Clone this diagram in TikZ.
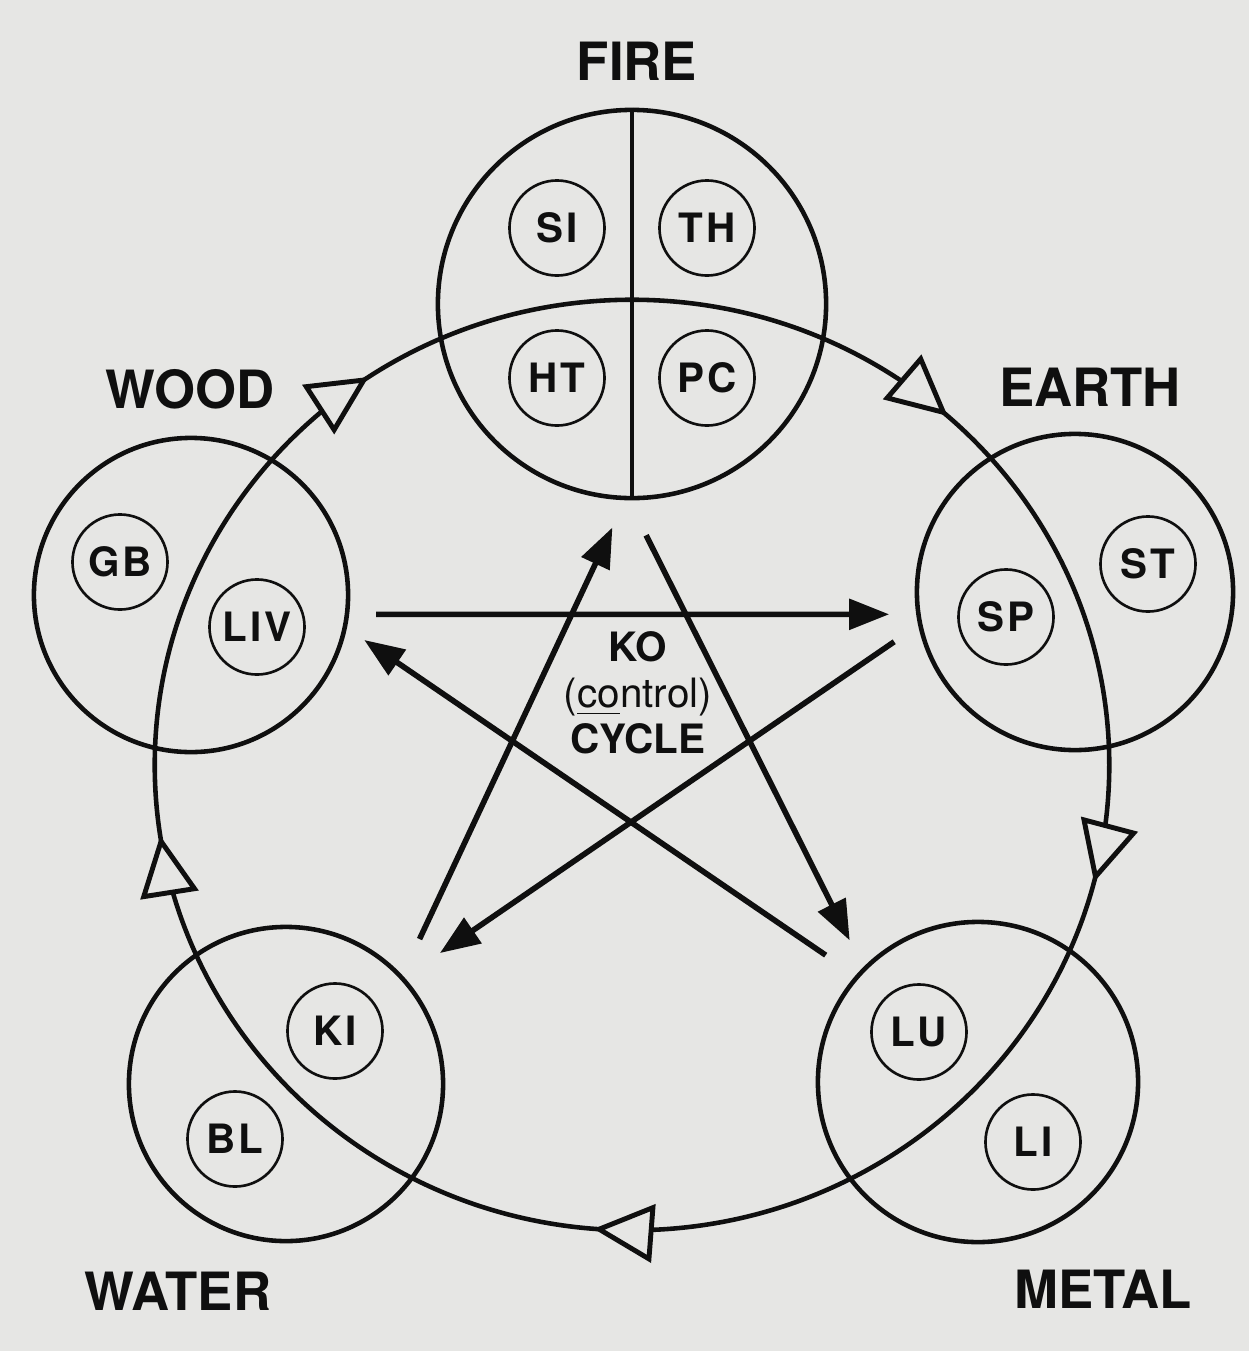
\documentclass[tikz,border=0pt]{standalone}
\usepackage{fontspec}
\setmainfont{TeX Gyre Heros}
\newfontfamily\organfont[LetterSpace=8]{TeX Gyre Heros}
\usetikzlibrary{arrows.meta, decorations.markings}
\definecolor{paper}{RGB}{230, 230, 228}
\definecolor{ink}{RGB}{15, 15, 15}

\begin{document}
\begin{tikzpicture}[x=0.01cm, y=-0.01cm,
    every node/.style={text=ink},
    element/.style={circle, draw=ink, line width=1.3pt, inner sep=0pt, minimum size=3.14cm},
    organ/.style={circle, draw=ink, line width=0.75pt, inner sep=0pt, minimum size=0.95cm,
        font=\organfont\bfseries\fontsize{11.5}{12}\selectfont},
    phase/.style={anchor=base, font=\bfseries\fontsize{15}{17}\selectfont},
    ko/.style={draw=ink, line width=1.6pt, -{Triangle[length=0.4cm, width=0.3cm]}},
    flowtip/.tip={Triangle[length=0.6cm, width=0.58cm, fill=paper, line width=1.4pt]}]
    \fill[paper] (0,0) rectangle (1249,1351);
    \useasboundingbox (0,0) rectangle (1249,1351);

    % the five phases
    \node[element, minimum size=3.88cm] (fire) at (632,304) {};
    \node[element] (wood) at (191,595) {};
    \node[element, minimum size=3.16cm] (earth) at (1075,592) {};
    \node[element] (water) at (286,1084) {};
    \node[element, minimum size=3.2cm] (metal) at (978,1082) {};
    \draw[ink, line width=1.2pt] (fire.north) -- (fire.south);

    \node[phase] (firelbl) at (637,80) {FIRE};
    \node[phase] (woodlbl) at (190,408) {WOOD};
    \node[phase] (earthlbl) at (1090,406) {EARTH};
    \node[phase] (waterlbl) at (178,1310) {WATER};
    \node[phase] (metallbl) at (1103,1308) {METAL};

    % organs
    \node[organ] (si) at (557,228) {SI};
    \node[organ] (th) at (707,228) {TH};
    \node[organ] (ht) at (557,378) {HT};
    \node[organ] (pc) at (707,378) {PC};
    \node[organ] (gb) at (120,562) {GB};
    \node[organ] (liv) at (257,627) {LIV};
    \node[organ] (sp) at (1006,617) {SP};
    \node[organ] (st) at (1148,564) {ST};
    \node[organ] (ki) at (335,1031) {KI};
    \node[organ] (bl) at (235,1139) {BL};
    \node[organ] (lu) at (919,1032) {LU};
    \node[organ] (li) at (1033,1142) {LI};

    % generating cycle
    \coordinate (hub) at (632,765);
    \draw[ink, line width=1.3pt, postaction={decorate}, decoration={markings,
            mark=at position 0.04 with {\arrow{flowtip}},
            mark=at position 0.263 with {\arrow{flowtip}},
            mark=at position 0.476 with {\arrow{flowtip}},
            mark=at position 0.656 with {\arrow{flowtip}},
            mark=at position 0.866 with {\arrow{flowtip}}}]
        ([xshift=4.77cm]hub) arc[start angle=0, end angle=-360, x radius=4.77cm, y radius=4.65cm];

    % ko cycle
    \draw[ko, shorten <=0.27cm, shorten >=0.27cm] (wood.-7.7) -- (earth.188.7);
    \draw[ko, shorten <=0.29cm, shorten >=0.43cm] (earth.192.7) -- (water.42.8);
    \draw[ko, shorten <=0.40cm, shorten >=0.30cm] (water.43.1) -- (fire.268.2);
    \draw[ko, shorten <=0.39cm, shorten >=0.30cm] (fire.269.3) -- (metal.135.7);
    \draw[ko, shorten <=0.36cm, shorten >=0.21cm] (metal.139.1) -- (wood.-12.3);

    \node[align=center, font=\fontsize{11.5}{13.1}\selectfont] (kotext) at (638,693)
        {\textbf{KO}\\(\underline{co}ntrol)\\\textbf{CYCLE}};
\end{tikzpicture}
\end{document}
